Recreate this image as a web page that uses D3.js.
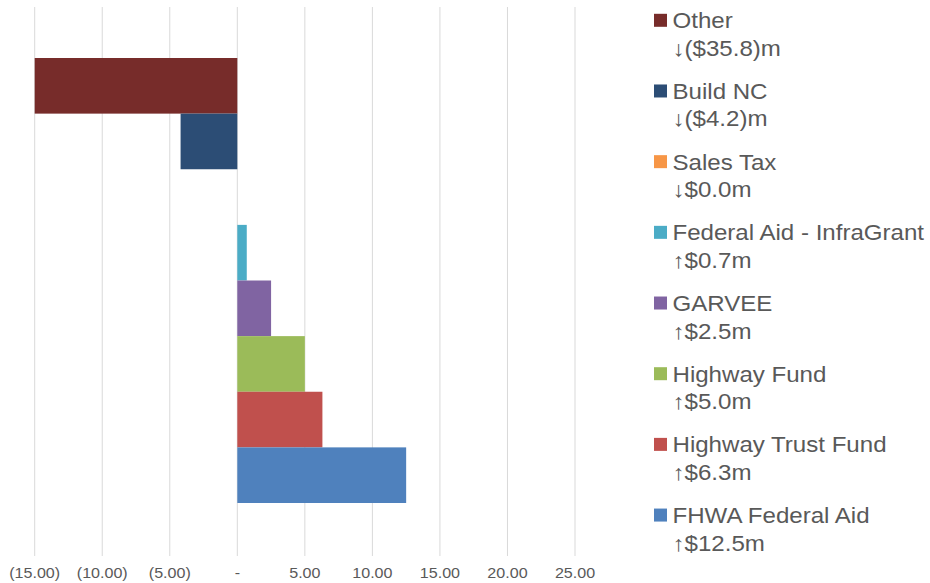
<!DOCTYPE html>
<html>
<head>
<meta charset="utf-8">
<script src="https://cdn.jsdelivr.net/npm/d3@7"></script>
<style>
  body { margin: 0; background: #fff; }
  text { font-family: "Liberation Sans", Arial, sans-serif; fill: #595959; }
</style>
</head>
<body>
<div id="chart"></div>
<script>
// Series (one per legend entry), top to bottom
var seriesNames = ["Other", "Build NC", "Sales Tax", "Federal Aid - InfraGrant",
    "GARVEE", "Highway Fund", "Highway Trust Fund", "FHWA Federal Aid"];
var seriesValues = [-35.8, -4.2, 0.0, 0.7, 2.5, 5.0, 6.3, 12.5];
var seriesLabels = ["\u2193($35.8)m", "\u2193($4.2)m", "\u2193$0.0m", "\u2191$0.7m",
    "\u2191$2.5m", "\u2191$5.0m", "\u2191$6.3m", "\u2191$12.5m"];
var seriesColors = ["#772C2A", "#2C4D75", "#F79646", "#4BACC6",
    "#8064A2", "#9BBB59", "#C0504D", "#4F81BD"];
var xTicks = [-15, -10, -5, 0, 5, 10, 15, 20, 25];

var width = 930, height = 583;
// the original text is a bit wider than it is tall
var stretch = 1.11;

var svg = d3.select("#chart").append("svg")
    .attr("width", width)
    .attr("height", height);

// Scales
var x = d3.scaleLinear()
    .domain([-15, 25])
    .range([34.7, 575]);

var y = d3.scaleBand()
    .domain(seriesNames)
    .range([58, 503]);

var plotTop = 7, plotBottom = 556;

// Vertical gridlines
svg.append("g")
    .selectAll("line")
    .data(xTicks)
    .enter().append("line")
    .attr("x1", function (d) { return x(d); })
    .attr("x2", function (d) { return x(d); })
    .attr("y1", plotTop)
    .attr("y2", plotBottom)
    .style("stroke", "#D9D9D9")
    .style("stroke-width", 1);

// Clip bars to the axis range
svg.append("clipPath")
    .attr("id", "plot_clip")
    .append("rect")
    .attr("x", x(-15))
    .attr("y", plotTop)
    .attr("width", x(25) - x(-15))
    .attr("height", plotBottom - plotTop);

// Bars
svg.append("g")
    .attr("clip-path", "url(#plot_clip)")
    .selectAll("rect")
    .data(seriesNames)
    .enter().append("rect")
    .attr("x", function (d, i) { return x(Math.min(0, seriesValues[i])); })
    .attr("y", function (d) { return y(d); })
    .attr("width", function (d, i) { return Math.abs(x(seriesValues[i]) - x(0)); })
    .attr("height", y.bandwidth())
    .style("fill", function (d, i) { return seriesColors[i]; });

// X axis labels
function tickFormat(v) {
    if (v === 0) return "-";
    if (v < 0) return "(" + d3.format(".2f")(-v) + ")";
    return d3.format(".2f")(v);
}

svg.append("g")
    .attr("class", "x_axis")
    .selectAll("text")
    .data(xTicks)
    .enter().append("text")
    .attr("transform", function (d) { return "translate(" + x(d) + ",578) scale(" + stretch + ",1)"; })
    .attr("text-anchor", "middle")
    .style("font-size", "14.5px")
    .text(tickFormat);

// Legend
var legend = svg.append("g")
    .selectAll("g")
    .data(seriesNames)
    .enter().append("g")
    .attr("transform", function (d, i) { return "translate(654," + (28.3 + i * 70.68) + ")"; });

legend.append("rect")
    .attr("x", 0)
    .attr("y", -14.5)
    .attr("width", 13)
    .attr("height", 13)
    .style("fill", function (d, i) { return seriesColors[i]; });

legend.append("text")
    .attr("transform", "translate(18.5,0) scale(" + stretch + ",1)")
    .style("font-size", "21.7px")
    .text(function (d) { return d; });

legend.append("text")
    .attr("transform", "translate(18.5,27.5) scale(" + stretch + ",1)")
    .style("font-size", "21.7px")
    .text(function (d, i) { return seriesLabels[i]; });
</script>
</body>
</html>
